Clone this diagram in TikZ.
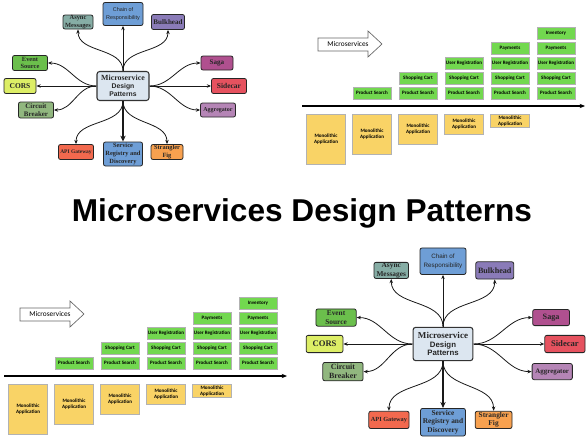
\documentclass[tikz,border=0pt]{standalone}
\usepackage{fontspec}
\setmainfont{Liberation Serif}
\setsansfont{Liberation Sans}
\newfontfamily\calfont{Carlito}
\usetikzlibrary{arrows.meta}

\definecolor{hubfill}{HTML}{DCE6F0}
\definecolor{chainblue}{HTML}{6E9ED6}
\definecolor{asyncteal}{HTML}{86ADA5}
\definecolor{bulkpurple}{HTML}{8A7BB8}
\definecolor{eventgreen}{HTML}{6BBF4C}
\definecolor{corsyellow}{HTML}{DDEE66}
\definecolor{breakersage}{HTML}{91B77F}
\definecolor{sagamagenta}{HTML}{B0508F}
\definecolor{sidecarred}{HTML}{E6525F}
\definecolor{aggmauve}{HTML}{B585B6}
\definecolor{gatewayred}{HTML}{F2694E}
\definecolor{figorange}{HTML}{F8A14F}
\definecolor{svcgreen}{HTML}{72D84F}
\definecolor{monoyellow}{HTML}{F9D366}

\tikzset{
  % the pattern hub with its twelve boxes
  patternmap/.pic={
    \node[hub] (c) at (0,0) {{\rmfamily\fontsize{5.9}{5.8}\selectfont Microservice}\\Design\\Patterns};

    \node[pbox, fill=chainblue, minimum width=30pt, minimum height=17.25pt, font=\sffamily\fontsize{4.1}{6}\selectfont] (chain) at (0,-72) {Chain of\\Responsibility};
    \node[pbox, fill=asyncteal, minimum width=22.5pt, minimum height=10.5pt, pfont={4.8}{5.4}] (async) at (-45,-64) {Async\\Messages};
    \node[pbox, fill=bulkpurple, minimum width=24.75pt, minimum height=11.25pt, pfont={5.3}{6}] (bulk) at (45,-64) {Bulkhead};

    \node[pbox, fill=eventgreen, minimum width=26.25pt, minimum height=11.25pt, pfont={4.8}{5.4}] (event) at (-93,-23) {Event\\Source};
    \node[pbox, fill=corsyellow, minimum width=24pt, minimum height=11.25pt, pfont={5.6}{6}] (cors) at (-103,0) {CORS};
    \node[pbox, fill=breakersage, minimum width=26.25pt, minimum height=12pt, pfont={5.2}{6}] (breaker) at (-87,24) {Circuit\\Breaker};

    \node[pbox, fill=sagamagenta, minimum width=24pt, minimum height=10.5pt, pfont={5.3}{6}] (saga) at (94,-23) {Saga};
    \node[pbox, fill=sidecarred, minimum width=26.25pt, minimum height=11.25pt, pfont={5.6}{6}] (sidecar) at (106,0) {Sidecar};
    \node[pbox, fill=aggmauve, minimum width=26.25pt, minimum height=10.5pt, pfont={4.5}{5}] (aggregator) at (95,24) {Aggregator};

    \node[pbox, fill=gatewayred, minimum width=26.25pt, minimum height=11.25pt, pfont={4.1}{5}] (gateway) at (-47,66) {API Gateway};
    \node[pbox, fill=chainblue, minimum width=29.25pt, minimum height=18pt, pfont={4.8}{5.7}] (registry) at (0,68) {Service\\Registry and\\Discovery};
    \node[pbox, fill=figorange, minimum width=24pt, minimum height=11.25pt, pfont={4.8}{5.4}] (fig) at (44,66) {Strangler\\Fig};

    \draw[link] (c.north) -- (chain.south);
    \draw[link] (c.north) to[out=90,in=-90] (async.south);
    \draw[link] (c.north) to[out=90,in=-90] (bulk.south);
    \draw[link] (c.west) to[out=180,in=0] (event.east);
    \draw[link] (c.west) -- (cors.east);
    \draw[link] (c.west) to[out=180,in=0] (breaker.east);
    \draw[link] (c.east) to[out=0,in=180] (saga.west);
    \draw[link] (c.east) -- (sidecar.west);
    \draw[link] (c.east) to[out=0,in=180] (aggregator.west);
    \draw[link] (c.south) to[out=-90,in=90] (gateway.north);
    \draw[biglink] (c.south) -- (registry.north);
    \draw[link] (c.south) to[out=-90,in=90] (fig.north);
  },
  % monolith shrinking, services growing
  migration/.pic={
    \draw[banner] (-8,-68) -- (42,-68) -- (42,-75) -- (56,-62) -- (42,-49) -- (42,-55) -- (-8,-55) -- cycle;
    \node[bannertext] (ms) at (22,-62) {Microservices};

    \coordinate (ax0) at (-24,0);
    \coordinate (ax1) at (259,0);
    \draw[axis] (ax0) -- (ax1);

    \node[svc] (ps1) at (46,-13) {Product Search};
    \node[svc] (ps2) at (92,-13) {Product Search};
    \node[svc] (ps3) at (138,-13) {Product Search};
    \node[svc] (ps4) at (184,-13) {Product Search};
    \node[svc] (ps5) at (230,-13) {Product Search};

    \node[svc] (sc2) at (92,-28) {Shopping Cart};
    \node[svc] (sc3) at (138,-28) {Shopping Cart};
    \node[svc] (sc4) at (184,-28) {Shopping Cart};
    \node[svc] (sc5) at (230,-28) {Shopping Cart};

    \node[svc] (ur3) at (138,-43) {User Registration};
    \node[svc] (ur4) at (184,-43) {User Registration};
    \node[svc] (ur5) at (230,-43) {User Registration};

    \node[svc] (pay4) at (184,-58) {Payments};
    \node[svc] (pay5) at (230,-58) {Payments};

    \node[svc] (inv5) at (230,-73) {Inventory};

    \node[mono, minimum height=37.5pt] (mono0) at (0,8) {Monolithic\\Application};
    \node[mono, minimum height=30pt] (mono1) at (46,8) {Monolithic\\Application};
    \node[mono, minimum height=22.5pt] (mono2) at (92,8) {Monolithic\\Application};
    \node[mono, minimum height=15pt] (mono3) at (138,8) {Monolithic\\Application};
    \node[mono, minimum height=9.75pt] (mono4) at (184,8) {Monolithic\\Application};
  }
}

\begin{document}
\begin{tikzpicture}[x=0.75pt, y=-0.75pt,
  hub/.style={draw=black!80, fill=hubfill, rounded corners=2pt, line width=0.8pt, minimum width=39pt, minimum height=21.75pt, align=center, inner sep=0pt, text=black!85, font=\sffamily\bfseries\fontsize{5.1}{5.8}\selectfont},
  pbox/.style={draw=black!85, rounded corners=1.5pt, line width=0.6pt, align=center, inner sep=0pt, text=black!85},
  pfont/.style 2 args={font=\rmfamily\bfseries\fontsize{#1}{#2}\selectfont},
  link/.style={draw=black!90, line width=0.6pt, -{Stealth[length=3.2pt, width=2.6pt]}},
  biglink/.style={draw=black!90, line width=1.2pt, -{Stealth[length=4.5pt, width=4pt]}},
  banner/.style={draw=black!60, fill=white, line width=0.5pt},
  bannertext/.style={font=\calfont\fontsize{5.5}{6}\selectfont},
  axis/.style={draw=black, line width=0.9pt, -{Stealth[length=4pt, width=3.2pt]}},
  svc/.style={draw=black!30, fill=svcgreen, line width=0.3pt, minimum width=28.5pt, minimum height=8.6pt, inner sep=0pt, font=\calfont\bfseries\fontsize{3.8}{4.5}\selectfont},
  mono/.style={draw=black!30, fill=monoyellow, line width=0.3pt, minimum width=29pt, anchor=north, align=center, inner sep=0pt, font=\calfont\bfseries\fontsize{3.8}{4.6}\selectfont}]
  \useasboundingbox[fill=white] (0,0) rectangle (586,439);

  \pic (tl-) at (123,86) {patternmap};
  \pic (tr-) at (326,106) {migration};

  \node[anchor=base, font=\sffamily\bfseries\fontsize{23.7}{28}\selectfont] (title) at (302,221) {Microservices Design Patterns};

  \pic (bl-) at (28,376) {migration};
  \pic[scale=1.15, transform shape] (br-) at (443,344) {patternmap};
\end{tikzpicture}
\end{document}
